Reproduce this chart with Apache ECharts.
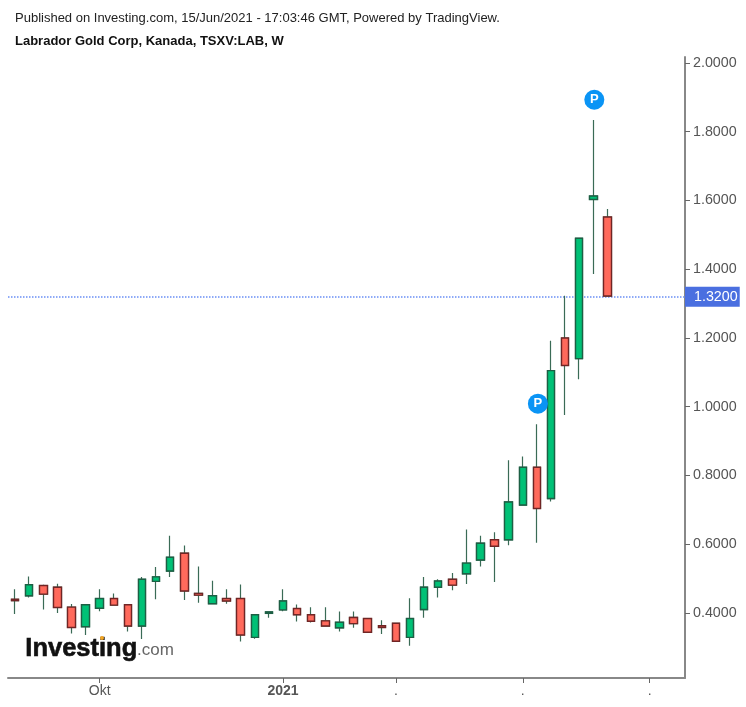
<!DOCTYPE html>
<html><head><meta charset="utf-8">
<style>html,body{margin:0;padding:0;background:#fff}#c{width:746px;height:707px}</style>
<script src="https://cdn.jsdelivr.net/npm/echarts@6/dist/echarts.min.js"></script>
</head><body><div id="c"></div>
<script>
var opens  = [.44,.45,.48,.475,.417,.36,.414,.442,.424,.362,.492,.522,.574,.457,.427,.442,.442,.329,.399,.409,.413,.395,.377,.357,.387,.384,.363,.37,.329,.41,.475,.498,.514,.554,.613,.613,.714,.824,.733,1.2,1.14,1.603,1.552];
var closes = [.436,.482,.455,.416,.358,.424,.442,.423,.362,.498,.505,.562,.464,.452,.45,.435,.336,.395,.403,.435,.395,.376,.362,.373,.369,.344,.358,.318,.384,.475,.493,.481,.545,.603,.594,.723,.824,.704,1.105,1.12,1.49,1.613,1.322];
var highs  = [.469,.506,.482,.485,.426,.425,.469,.457,.426,.505,.534,.625,.596,.535,.494,.469,.483,.397,.405,.469,.425,.417,.417,.404,.404,.384,.379,.37,.443,.505,.498,.516,.643,.625,.635,.844,.855,.949,1.192,1.323,1.49,1.834,1.575];
var lows   = [.397,.445,.41,.40,.34,.336,.405,.423,.346,.324,.44,.505,.438,.43,.427,.427,.317,.325,.386,.405,.375,.372,.36,.346,.357,.344,.339,.318,.305,.386,.445,.466,.484,.535,.49,.597,.714,.604,.724,.976,1.08,1.386,1.32];
var slots = 48;
var categories = [];
for (var i = 0; i < slots; i++) categories.push(i);
var xTickLabels = {6:'Okt',19:'2021',27:'.',36:'.',45:'.'};
var yTicks = [0.4,0.6,0.8,1.0,1.2,1.4,1.6,1.8,2.0];
var lastPrice = 1.32;
var pins = [[37,1.009],[41,1.893]];

var wicks = [], bodies = [];
opens.forEach(function(o,i){
  var c = closes[i];
  wicks.push([o,c,lows[i],highs[i]]);
  bodies.push([o,c,Math.min(o,c),Math.max(o,c)]);
});
var FONT = '"Liberation Sans", Arial, sans-serif';
var chart = echarts.init(document.getElementById('c'), null, {renderer:'canvas'});
chart.setOption({
  animation:false,
  backgroundColor:'#fff',
  grid:{left:8,right:61,top:57,bottom:29,containLabel:false},
  xAxis:{type:'category',data:categories,boundaryGap:true,
    axisLine:{show:true,onZero:false,lineStyle:{color:'#888',width:2}},
    axisTick:{show:true,alignWithLabel:true,length:5,lineStyle:{color:'#666'},
      interval:function(i){return xTickLabels[i]!==undefined;}},
    axisLabel:{interval:function(i){return xTickLabels[i]!==undefined;},margin:6,fontFamily:FONT,fontSize:14,color:'#555',
      formatter:function(v){var s=xTickLabels[v]||''; return s==='2021'?'{b|2021}':s;},
      rich:{b:{fontWeight:'bold',fontSize:14,color:'#555',fontFamily:FONT}}},
    splitLine:{show:false}},
  yAxis:{type:'value',position:'right',min:0.2109,max:2.01745,scale:true,
    axisLine:{show:true,onZero:false,lineStyle:{color:'#888',width:2}},
    axisTick:{show:true,length:5,customValues:yTicks,lineStyle:{color:'#666'}},
    axisLabel:{customValues:yTicks,margin:8,padding:[4,0,0,0],fontFamily:FONT,fontSize:14.3,color:'#555',
      formatter:function(v){return v.toFixed(4);}},
    splitLine:{show:false}},
  series:[
    {type:'candlestick',name:'wick',data:wicks,barWidth:8,silent:true,z:2,
     itemStyle:{color:'#00c176',color0:'#ff6a5c',borderColor:'#3a6b56',borderColor0:'#3a6b56',borderWidth:1.2},
     markLine:{silent:true,symbol:'none',z:1,animation:false,
       lineStyle:{color:'#6a8ff5',type:'dotted',width:1.5},
       label:{show:true,position:'end',distance:0,formatter:function(){return lastPrice.toFixed(4);},
         backgroundColor:'#4a6fe0',color:'#fff',fontFamily:FONT,fontSize:14.3,padding:[3,2,3,9]},
       data:[{yAxis:lastPrice}]}},
    {type:'candlestick',name:'body',data:bodies,barWidth:8,silent:true,z:3,
     itemStyle:{color:'#00c176',color0:'#ff6a5c',borderColor:'#1d5f44',borderColor0:'#702525',borderWidth:1.4}},
    {type:'scatter',name:'pins',data:pins,symbol:'circle',symbolSize:20,symbolOffset:[1,0],silent:true,z:4,
     itemStyle:{color:'#0a94f5',opacity:1},
     label:{show:true,position:'inside',formatter:'P',color:'#fff',fontFamily:FONT,fontWeight:'bold',fontSize:13}}
  ],
  graphic:[
    {type:'text',left:15,top:12,style:{text:'Published on Investing.com, 15/Jun/2021 - 17:03:46 GMT, Powered by TradingView.',fill:'#222',font:'13px '+FONT}},
    {type:'text',left:15,top:35,style:{text:'Labrador Gold Corp, Kanada, TSXV:LAB, W',fill:'#111',font:'bold 13px '+FONT}},
    {type:'text',left:25,top:636,z:10,style:{text:'Investing',fill:'#111',stroke:'#111',lineWidth:0.6,font:'bold 25.5px '+FONT}},
    {type:'text',left:137,top:642,z:10,style:{text:'.com',fill:'#666',font:'17px '+FONT}},
    {type:'circle',shape:{cx:102,cy:638,r:2},z:11,style:{fill:'#f5a623'}}
  ]
});
</script></body></html>
